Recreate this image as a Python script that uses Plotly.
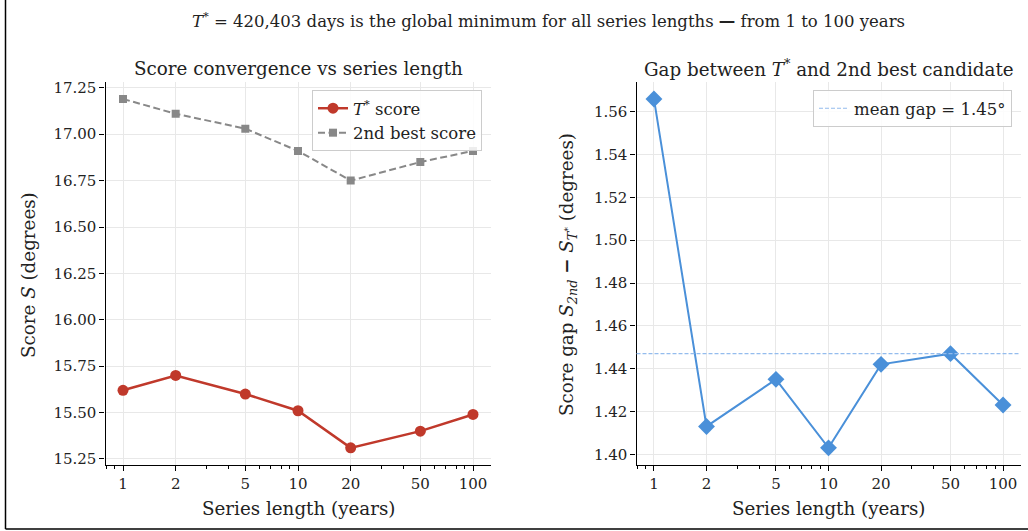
import numpy as np
import plotly.graph_objects as go

# ---- data ----
years = [1, 2, 5, 10, 20, 50, 100]
tstar_score = [15.62, 15.70, 15.60, 15.51, 15.31, 15.40, 15.49]
second_score = [17.19, 17.11, 17.03, 16.91, 16.75, 16.85, 16.91]
gap = [1.566, 1.413, 1.435, 1.403, 1.442, 1.447, 1.423]
x_ticks = [1, 2, 5, 10, 20, 50, 100]
x_minor = [0.8, 0.9, 3, 4, 6, 7, 8, 9, 30, 40, 60, 70, 80, 90]
y1_ticks = [15.25, 15.50, 15.75, 16.00, 16.25, 16.50, 16.75, 17.00, 17.25]
y2_ticks = [1.40, 1.42, 1.44, 1.46, 1.48, 1.50, 1.52, 1.54, 1.56]

mean_gap = float(np.mean(gap))

W, H = 1028, 531
FONT = "DejaVu Serif"
TXT = "#222222"
RED = "#c0392b"
GRAY = "#888888"
BLUE = "#4a90d9"
LIGHTBLUE = "#94bced"

def pad_range(vals_list):
    lo = min(min(v) for v in vals_list)
    hi = max(max(v) for v in vals_list)
    p = 0.05 * (hi - lo)
    return [lo - p, hi + p]

fig = go.Figure()

fig.add_trace(go.Scatter(
    x=years, y=tstar_score, mode="lines+markers", name="<i>T</i><sup>*</sup> score",
    line=dict(color=RED, width=2.5), marker=dict(symbol="circle", size=11, color=RED),
    xaxis="x", yaxis="y", legend="legend"))
fig.add_trace(go.Scatter(
    x=years, y=second_score, mode="lines+markers", name="2nd best score",
    line=dict(color=GRAY, width=2, dash="7px,3.5px"), marker=dict(symbol="square", size=8, color=GRAY),
    xaxis="x", yaxis="y", legend="legend"))
fig.add_trace(go.Scatter(
    x=years, y=gap, mode="lines+markers", name="gap", showlegend=False,
    line=dict(color=BLUE, width=2), marker=dict(symbol="diamond", size=13, color=BLUE),
    xaxis="x2", yaxis="y2"))

fig.add_shape(type="line", xref="x2 domain", yref="y2", x0=0, x1=1, y0=mean_gap, y1=mean_gap,
              line=dict(color=LIGHTBLUE, width=1.2, dash="4px,2px"),
              showlegend=True, legend="legend2", name=f"mean gap = {mean_gap:.2f}°")

axis_common = dict(
    showline=True, linecolor="black", linewidth=1.3, mirror=False,
    ticks="outside", ticklen=5, tickwidth=1.2, tickcolor="black",
    showgrid=True, gridcolor="#e8e8e8", gridwidth=1, zeroline=False,
    tickfont=dict(family=FONT, size=15, color=TXT), automargin=False,
)
xlog = dict(type="log", range=[-0.1, 2.1], tickvals=x_ticks, ticktext=[str(v) for v in x_ticks],
            minor=dict(tickvals=x_minor, ticks="outside", ticklen=3, tickwidth=1, tickcolor="black",
                       showgrid=False))

r1 = pad_range([tstar_score, second_score])
r2 = pad_range([gap])

legend_style = dict(bgcolor="rgba(255,255,255,0.85)", bordercolor="#cccccc", borderwidth=1,
                    font=dict(family=FONT, size=16.5, color=TXT), xanchor="right", yanchor="top")

fig.update_layout(
    width=W, height=H, margin=dict(l=0, r=0, t=0, b=0),
    paper_bgcolor="white", plot_bgcolor="white",
    font=dict(family=FONT, color=TXT),
    xaxis=dict(domain=[105.5 / W, 490.5 / W], anchor="y", **xlog, **axis_common),
    yaxis=dict(domain=[65.7 / H, 449.5 / H], anchor="x", range=r1, tickvals=y1_ticks,
               tickformat=".2f", **axis_common),
    xaxis2=dict(domain=[636.5 / W, 1020.5 / W], anchor="y2", **xlog, **axis_common),
    yaxis2=dict(domain=[65.7 / H, 449.5 / H], anchor="x2", range=r2, tickvals=y2_ticks,
                tickformat=".2f", **axis_common),
    legend=dict(x=482 / W, y=1 - 90 / H, **legend_style),
    legend2=dict(x=1012 / W, y=1 - 90 / H, **legend_style),
    showlegend=True,
)

ann = []
def add_text(text, x, y, size, angle=0):
    ann.append(dict(text=text, x=x / W, y=1 - y / H, xref="paper", yref="paper",
                    showarrow=False, xanchor="center", yanchor="middle", textangle=angle,
                    font=dict(family=FONT, size=size, color=TXT)))

add_text("<i>T</i><sup>*</sup> = 420,403 days is the global minimum for all series lengths <b>—</b> from 1 to 100 years",
         548, 20, 16.5)
add_text("Score convergence vs series length", 298, 68, 18.3)
add_text("Gap between <i>T</i><sup>*</sup> and 2nd best candidate", 828.5, 68, 18.3)
add_text("Series length (years)", 298, 508, 18.3)
add_text("Series length (years)", 828.5, 508, 18.3)
add_text("Score <i>S</i> (degrees)", 28, 275, 18.3, -90)
add_text("Score gap <i>S</i><sub><i>2nd</i></sub> <b>−</b> <i>S</i><sub><i>T</i><sup>*</sup></sub> (degrees)",
         568, 275, 18.3, -90)
fig.update_layout(annotations=ann)

# figure frame (left and bottom edges)
fig.add_shape(type="line", xref="paper", yref="paper", x0=5.5 / W, x1=5.5 / W, y0=2 / H, y1=1,
              line=dict(color="black", width=1.5))
fig.add_shape(type="line", xref="paper", yref="paper", x0=5.5 / W, x1=1, y0=2 / H, y1=2 / H,
              line=dict(color="black", width=1.5))

fig.write_html("out.html", config={"displayModeBar": False},
               post_script="document.body.style.margin='0';document.body.style.overflow='hidden';")
